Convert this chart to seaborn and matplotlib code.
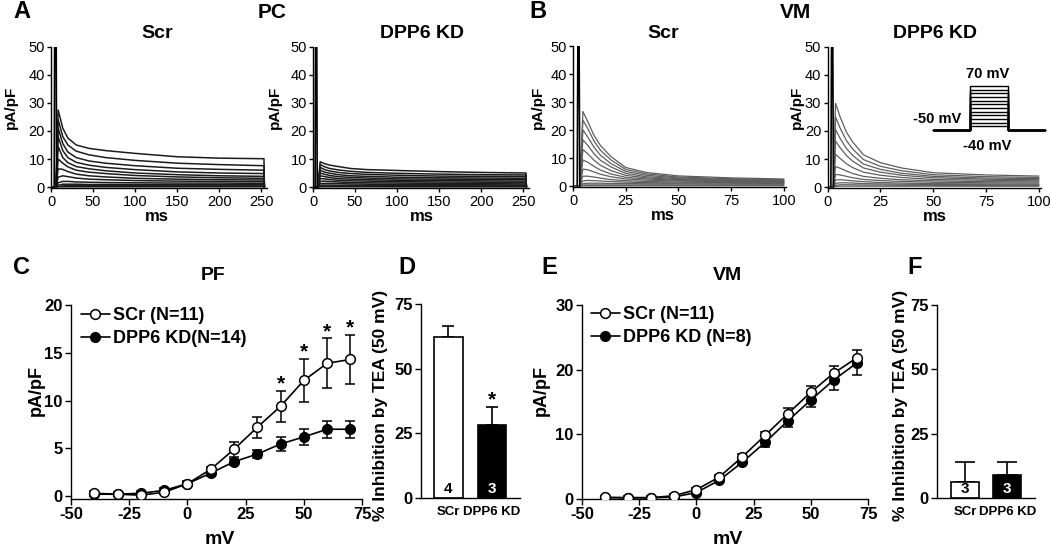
import matplotlib
matplotlib.use("Agg")
import matplotlib.pyplot as plt
import seaborn as sns
import pandas as pd

# ---------------- data ----------------
# Panel A (PC) current traces, pA/pF vs ms
A_T = [0, 6, 8.5, 14, 20, 30, 45, 65, 100, 150, 200, 253, 253.5]
A_SCR = [
    [0, 0, 27.5, 21.0, 17.5, 15.0, 13.8, 13.0, 12.0, 10.8, 10.3, 10.1, 0],
    [0, 0, 24.0, 18.0, 15.0, 12.8, 11.5, 10.5, 9.5, 8.5, 8.0, 7.6, 0],
    [0, 0, 21.0, 15.5, 12.5, 10.5, 9.3, 8.5, 7.6, 6.7, 6.3, 6.0, 0],
    [0, 0, 18.0, 13.0, 10.5, 8.8, 7.8, 7.0, 6.2, 5.4, 5.0, 4.8, 0],
    [0, 0, 14.5, 10.5, 8.7, 7.3, 6.5, 5.8, 5.0, 4.4, 4.0, 3.8, 0],
    [0, 0, 10.0, 8.5, 7.2, 6.0, 5.3, 4.8, 4.1, 3.6, 3.3, 3.1, 0],
    [0, 0, 6.5, 6.3, 5.5, 4.6, 4.0, 3.6, 3.1, 2.8, 2.6, 2.5, 0],
    [0, 0, 3.5, 4.0, 3.7, 3.2, 2.8, 2.6, 2.3, 2.1, 2.0, 1.9, 0],
    [0, 0, 1.5, 2.0, 2.0, 1.8, 1.7, 1.6, 1.5, 1.4, 1.4, 1.3, 0],
    [0, 0, 0.6, 1.0, 1.0, 1.0, 0.9, 0.9, 0.9, 0.8, 0.8, 0.8, 0],
    [0, 0, 0.2, 0.4, 0.5, 0.5, 0.5, 0.5, 0.5, 0.4, 0.4, 0.4, 0],
    [0, 0, 0.1, 0.1, 0.1, 0.1, 0.1, 0.1, 0.1, 0.1, 0.1, 0.1, 0],
]
A_KD = [
    [0, 0, 9.0, 8.3, 7.8, 7.3, 6.6, 6.2, 5.9, 5.5, 5.2, 5.0, 0],
    [0, 0, 8.0, 7.2, 6.6, 6.1, 5.6, 5.2, 4.9, 4.6, 4.4, 4.3, 0],
    [0, 0, 7.0, 6.2, 5.7, 5.2, 4.8, 4.5, 4.2, 3.9, 3.8, 3.7, 0],
    [0, 0, 6.0, 5.3, 4.9, 4.4, 4.0, 3.8, 3.5, 3.3, 3.2, 3.1, 0],
    [0, 0, 5.0, 4.5, 4.1, 3.7, 3.4, 3.2, 2.9, 2.8, 2.7, 2.6, 0],
    [0, 0, 4.0, 3.7, 3.4, 3.0, 2.8, 2.6, 2.4, 2.3, 2.2, 2.1, 0],
    [0, 0, 3.0, 2.9, 2.7, 2.4, 2.2, 2.1, 1.9, 1.8, 1.7, 1.6, 0],
    [0, 0, 2.0, 2.1, 2.0, 1.8, 1.6, 1.5, 1.4, 1.3, 1.2, 1.1, 0],
    [0, 0, 1.2, 1.3, 1.3, 1.2, 1.1, 1.0, 0.9, 0.8, 0.8, 0.7, 0],
    [0, 0, 0.6, 0.7, 0.7, 0.6, 0.6, 0.5, 0.5, 0.5, 0.4, 0.4, 0],
    [0, 0, 0.3, 0.3, 0.3, 0.3, 0.3, 0.3, 0.2, 0.2, 0.2, 0.2, 0],
    [0, 0, 0.1, 0.1, 0.1, 0.1, 0.1, 0.1, 0.1, 0.1, 0.1, 0.1, 0],
]
# Panel B (VM) current traces
B_SCR_T = [0, 3.2, 4.7, 7, 10, 13, 18, 25, 35, 50, 75, 100]
B_SCR = [
    [0, 0, 26.6, 23.0, 18.0, 14.5, 10.5, 6.6, 4.8, 3.6, 2.9, 2.5],
    [0, 0, 23.5, 20.5, 16.0, 12.8, 9.3, 5.9, 4.3, 3.2, 2.6, 2.2],
    [0, 0, 20.0, 17.5, 13.8, 11.0, 8.0, 5.2, 3.8, 2.9, 2.3, 2.0],
    [0, 0, 16.5, 14.5, 11.5, 9.2, 6.8, 4.5, 3.3, 2.6, 2.1, 1.8],
    [0, 0, 13.0, 11.5, 9.2, 7.4, 5.5, 3.8, 2.9, 2.3, 1.9, 1.6],
    [0, 0, 9.3, 8.5, 7.0, 5.7, 4.3, 3.1, 2.5, 2.0, 1.7, 1.5],
    [0, 0, 6.0, 5.8, 5.0, 4.2, 3.3, 2.5, 2.1, 1.8, 1.5, 1.3],
    [0, 0, 3.5, 3.5, 3.2, 2.8, 2.3, 1.9, 1.6, 1.4, 1.2, 1.1],
    [0, 0, 1.8, 2.0, 1.9, 1.8, 1.6, 1.4, 1.2, 1.1, 1.0, 0.9],
    [0, 0, 0.8, 1.0, 1.0, 1.0, 0.9, 0.9, 0.8, 0.8, 0.7, 0.7],
    [0, 0, 0.3, 0.4, 0.4, 0.4, 0.4, 0.4, 0.4, 0.4, 0.4, 0.4],
    [0, 0, 0.1, 0.1, 0.1, 0.1, 0.1, 0.1, 0.1, 0.1, 0.1, 0.1],
]
B_KD_T = [0, 2.8, 3.8, 6, 9, 12, 17, 25, 35, 50, 75, 100]
B_KD = [
    [0, 0, 29.9, 25.0, 19.5, 16.0, 11.5, 8.7, 6.8, 5.1, 4.3, 3.9],
    [0, 0, 25.0, 21.0, 16.5, 13.5, 9.8, 7.4, 5.8, 4.4, 3.7, 3.4],
    [0, 0, 20.5, 17.3, 13.7, 11.2, 8.2, 6.3, 4.9, 3.8, 3.2, 3.0],
    [0, 0, 16.4, 14.0, 11.2, 9.2, 6.8, 5.3, 4.2, 3.3, 2.8, 2.6],
    [0, 0, 11.7, 10.2, 8.3, 6.9, 5.3, 4.2, 3.4, 2.7, 2.4, 2.2],
    [0, 0, 7.3, 6.7, 5.7, 4.8, 3.8, 3.1, 2.6, 2.2, 1.9, 1.8],
    [0, 0, 4.5, 4.3, 3.8, 3.3, 2.7, 2.3, 2.0, 1.7, 1.5, 1.4],
    [0, 0, 2.5, 2.6, 2.4, 2.2, 1.9, 1.6, 1.4, 1.2, 1.1, 1.0],
    [0, 0, 1.3, 1.5, 1.5, 1.4, 1.2, 1.1, 1.0, 0.9, 0.8, 0.7],
    [0, 0, 0.6, 0.8, 0.8, 0.8, 0.7, 0.7, 0.6, 0.6, 0.5, 0.5],
    [0, 0, 0.2, 0.3, 0.3, 0.3, 0.3, 0.3, 0.3, 0.3, 0.3, 0.3],
]
# capacitive transients
SPIKE_V = [0, 50, 50, 0]
A_SCR_SPIKE_T = [3.8, 4.3, 6.2, 6.7]
A_KD_SPIKE_T = [2.5, 3.0, 4.5, 5.0]
B_SCR_SPIKE_T = [2.0, 2.3, 2.9, 3.2]
B_KD_SPIKE_T = [1.6, 1.9, 2.5, 2.8]

# voltage protocol (inset)
HOLD_MV = -50
STEP_MV = [-40, -30, -20, -10, 0, 10, 20, 30, 40, 50, 60, 70]
PROTO_T = [0, 1, 1, 2, 2, 3]

# Panel C (PF) I-V
MV = [-40, -30, -20, -10, 0, 10, 20, 30, 40, 50, 60, 70]
C_SCR = [0.3, 0.2, 0.1, 0.4, 1.3, 2.8, 4.9, 7.2, 9.4, 12.1, 13.9, 14.3]
C_SCR_ERR = [0.2, 0.2, 0.2, 0.2, 0.3, 0.3, 0.8, 1.1, 1.6, 2.3, 2.6, 2.6]
C_KD = [0.2, 0.2, 0.3, 0.6, 1.3, 2.4, 3.6, 4.4, 5.45, 6.2, 7.0, 7.0]
C_KD_ERR = [0.2, 0.2, 0.2, 0.2, 0.2, 0.3, 0.3, 0.4, 0.75, 0.85, 0.9, 0.9]
C_SIG = [40, 50, 60, 70]

# Panel E (VM) I-V
E_SCR = [0.26, 0.2, 0.2, 0.5, 1.44, 3.4, 6.5, 9.83, 13.2, 16.5, 19.45, 21.8]
E_SCR_ERR = [0.2, 0.2, 0.2, 0.2, 0.3, 0.3, 0.4, 0.6, 0.85, 0.9, 1.15, 1.2]
E_KD = [0.2, 0.2, 0.2, 0.3, 1.0, 2.9, 5.66, 8.75, 12.1, 15.3, 18.4, 21.0]
E_KD_ERR = [0.2, 0.2, 0.2, 0.2, 0.3, 0.3, 0.4, 0.77, 0.9, 1.15, 1.5, 1.8]

# Panels D / F (% inhibition by TEA at 50 mV)
BAR_CATS = ["SCr", "DPP6 KD"]
D_VALS = [62.2, 28.2]
D_ERR = [4.3, 7.0]
D_N = [4, 3]
D_SIG = [1]
F_VALS = [6.2, 8.9]
F_ERR = [7.8, 5.1]
F_N = [3, 3]

# ---------------- style ----------------
W, H = 1050, 549
sns.set_theme(style="ticks")
plt.rcParams["font.family"] = ["Liberation Sans", "DejaVu Sans"]
plt.rcParams.update({
    "axes.linewidth": 1.0, "axes.edgecolor": "black",
    "xtick.color": "black", "ytick.color": "black",
    "xtick.major.width": 1.0, "ytick.major.width": 1.0,
    "text.color": "black", "axes.labelcolor": "black",
    "axes.unicode_minus": False,
})

fig = plt.figure(figsize=(W / 100, H / 100), dpi=100)


def add_ax(l, t, r, b):
    ax = fig.add_axes([l / W, 1 - b / H, (r - l) / W, (b - t) / H])
    ax.set_facecolor("none")
    ax._px = (l, t, r, b)
    return ax


def ftext(x, y, s, **kw):
    kw.setdefault("ha", "center")
    kw.setdefault("va", "center")
    fig.text(x / W, 1 - y / H, s, **kw)


def set_labels(ax, xl, xpos, yl, ypos, xsize, ysize):
    l, t, r, b = ax._px
    if xl:
        ax.set_xlabel(xl, fontsize=xsize, fontweight="bold", va="center")
        ax.xaxis.set_label_coords((xpos[0] - l) / (r - l), (b - xpos[1]) / (b - t))
    if yl:
        ax.set_ylabel(yl, fontsize=ysize, fontweight="bold", va="center")
        ax.yaxis.set_label_coords((ypos[0] - l) / (r - l), (b - ypos[1]) / (b - t))


def traces_df(t, rows):
    recs = []
    for i, row in enumerate(rows):
        for tt, vv in zip(t, row):
            recs.append((i, tt, vv))
    return pd.DataFrame(recs, columns=["trace", "t", "v"])


def trace_panel(rect, t, rows, spike_t, xmax, xticks, color, lw, title, tx, ylab_x):
    ax = add_ax(*rect)
    sns.lineplot(data=traces_df(t, rows), x="t", y="v", units="trace", estimator=None,
                 sort=False, color=color, lw=lw, ax=ax, legend=False)
    sns.lineplot(x=spike_t, y=SPIKE_V, sort=False, estimator=None, color="black",
                 lw=1.2, ax=ax)
    ax.set_xlim(0, xmax)
    ax.set_ylim(-0.5, 50)
    ax.set_xticks(xticks)
    ax.set_yticks([0, 10, 20, 30, 40, 50])
    ax.tick_params(labelsize=10.5, length=3, pad=1.5)
    sns.despine(ax=ax)
    set_labels(ax, "ms", (tx, 216), "pA/pF", (ylab_x, 107), 12, 11)
    ftext(tx, 33, title, fontsize=14, fontweight="bold")
    return ax


# ---------------- top row ----------------
trace_panel((51, 47, 266.5, 188.4), A_T, A_SCR, A_SCR_SPIKE_T, 256,
            [0, 50, 100, 150, 200, 250], "#1c1c1c", 1.1, "Scr", 157, 11)
trace_panel((313, 47, 528.5, 188.4), A_T, A_KD, A_KD_SPIKE_T, 256,
            [0, 50, 100, 150, 200, 250], "#1c1c1c", 1.1, "DPP6 KD", 422, 275)
trace_panel((573, 46, 786, 187.4), B_SCR_T, B_SCR, B_SCR_SPIKE_T, 101,
            [0, 25, 50, 75, 100], "#5e5e5e", 0.9, "Scr", 663, 538)
trace_panel((827.5, 47, 1041, 188.4), B_KD_T, B_KD, B_KD_SPIKE_T, 101,
            [0, 25, 50, 75, 100], "#5e5e5e", 0.9, "DPP6 KD", 935, 797)

# inset: voltage protocol
axi = add_ax(933, 86, 1045, 130)
proto = []
for i, v in enumerate(STEP_MV):
    for tt, vv in zip(PROTO_T, [HOLD_MV, HOLD_MV, v, v, HOLD_MV, HOLD_MV]):
        proto.append((i, tt, vv))
proto = pd.DataFrame(proto, columns=["step", "t", "mV"])
sns.lineplot(data=proto, x="t", y="mV", units="step", estimator=None, sort=False,
             color="black", lw=1.0, ax=axi, legend=False)
for ln in axi.lines:
    ln.set_clip_on(False)
axi.set_xlim(0, 3)
axi.set_ylim(-50, 70)
axi.axis("off")
ftext(988, 74, "70 mV", fontsize=10.5, fontweight="bold")
ftext(937, 119, "-50 mV", fontsize=10.5, fontweight="bold")
ftext(987, 146, "-40 mV", fontsize=10.5, fontweight="bold")

# panel letters / headers
ftext(22, 12, "A", fontsize=17, fontweight="bold")
ftext(272, 12, "PC", fontsize=15, fontweight="bold")
ftext(538, 12, "B", fontsize=17, fontweight="bold")
ftext(795, 12, "VM", fontsize=15, fontweight="bold")
ftext(22, 268, "C", fontsize=17, fontweight="bold")
ftext(407, 268, "D", fontsize=17, fontweight="bold")
ftext(549, 268, "E", fontsize=17, fontweight="bold")
ftext(915, 268, "F", fontsize=17, fontweight="bold")


# ---------------- I-V panels ----------------
def iv_panel(rect, scr, scr_err, kd, kd_err, ylim, yticks, title, tx, lab_kd,
             scr_up_only, legend_xy, ylab_x, mv_x):
    ax = add_ax(*rect)
    if scr_up_only:
        se = [[0] * len(scr_err), scr_err]
        ke = [kd_err, [0] * len(kd_err)]
    else:
        se = scr_err
        ke = kd_err
    ax.errorbar(MV, kd, yerr=ke, fmt="none", ecolor="black", elinewidth=1.1,
                capsize=3.4, capthick=1.1, zorder=1)
    ax.errorbar(MV, scr, yerr=se, fmt="none", ecolor="black", elinewidth=1.1,
                capsize=3.4, capthick=1.1, zorder=1)
    sns.lineplot(x=MV, y=kd, marker="o", color="black", lw=1.2, markersize=7,
                 markerfacecolor="black", markeredgecolor="black", markeredgewidth=1.0,
                 ax=ax, zorder=3)
    h_kd = ax.lines[-1]
    sns.lineplot(x=MV, y=scr, marker="o", color="black", lw=1.2, markersize=7,
                 markerfacecolor="white", markeredgecolor="black", markeredgewidth=1.1,
                 ax=ax, zorder=4)
    h_scr = ax.lines[-1]
    ax.set_xlim(-50, 75)
    ax.set_ylim(*ylim)
    ax.set_xticks([-50, -25, 0, 25, 50, 75])
    ax.set_yticks(yticks)
    ax.tick_params(labelsize=12, length=4, pad=2)
    for lb in ax.get_xticklabels() + ax.get_yticklabels():
        lb.set_fontweight("bold")
    sns.despine(ax=ax)
    l, t, r, b = rect
    ax.legend([h_scr, h_kd], ["SCr (N=11)", lab_kd], loc="upper left",
              bbox_to_anchor=((legend_xy[0] - l) / (r - l), (b - legend_xy[1]) / (b - t)),
              frameon=False, borderpad=0, borderaxespad=0, handlelength=1.6,
              handletextpad=0.15, labelspacing=0.35,
              prop={"weight": "bold", "size": 13})
    set_labels(ax, "mV", (mv_x, 540), "pA/pF", (ylab_x, 391), 14, 13)
    ftext(tx, 276, title, fontsize=14, fontweight="bold")
    return ax


axC = iv_panel((71, 305, 362, 499), C_SCR, C_SCR_ERR, C_KD, C_KD_ERR, (-0.3, 20),
               [0, 5, 10, 15, 20], "PF", 213, "DPP6 KD(N=14)", False, (81, 307), 36, 220)
for x in C_SIG:
    i = MV.index(x)
    axC.annotate("*", (x, C_SCR[i] + C_SCR_ERR[i]), xytext=(0, 1), textcoords="offset points",
                 ha="center", va="baseline", fontsize=15, fontweight="bold")

axE = iv_panel((582, 305, 868, 499), E_SCR, E_SCR_ERR, E_KD, E_KD_ERR, (0, 30),
               [0, 10, 20, 30], "VM", 727, "DPP6 KD (N=8)", True, (591, 306), 541, 728)


# ---------------- bar panels ----------------
def bar_panel(rect, vals, errs, ns, xlim, ylab_x, capsize):
    ax = add_ax(*rect)
    sns.barplot(x=BAR_CATS, y=vals, hue=BAR_CATS, palette=["white", "black"],
                edgecolor="black", linewidth=1.2, width=0.66, errorbar=None,
                legend=False, ax=ax, zorder=2)
    ax.errorbar([0, 1], vals, yerr=[[0, 0], errs], fmt="none", ecolor="black",
                elinewidth=1.2, capsize=capsize, capthick=1.2, zorder=1)
    for i, n in enumerate(ns):
        ax.annotate(str(n), (i, 0), xytext=(0, 1.5), textcoords="offset points",
                    ha="center", va="bottom", fontsize=11, fontweight="bold",
                    color="black" if i == 0 else "white", zorder=5)
    ax.set_xlim(*xlim)
    ax.set_ylim(0, 75)
    ax.set_yticks([0, 25, 50, 75])
    ax.tick_params(axis="y", labelsize=12, length=4, pad=2)
    ax.tick_params(axis="x", labelsize=9.5, length=0, pad=6)
    for lb in ax.get_xticklabels() + ax.get_yticklabels():
        lb.set_fontweight("bold")
    sns.despine(ax=ax)
    set_labels(ax, None, None, "% Inhibition by TEA (50 mV)", (ylab_x, 405), 12, 12.5)
    return ax


axD = bar_panel((421, 304, 520, 498), D_VALS, D_ERR, D_N, (-0.62, 1.64), 381, 4.3)
for i in D_SIG:
    axD.annotate("*", (i, D_VALS[i] + D_ERR[i]), xytext=(0, 1), textcoords="offset points",
                 ha="center", va="baseline", fontsize=15, fontweight="bold")
axF = bar_panel((937, 305, 1035, 498), F_VALS, F_ERR, F_N, (-0.66, 1.65), 901, 7)

fig.savefig("out.png", dpi=100)
